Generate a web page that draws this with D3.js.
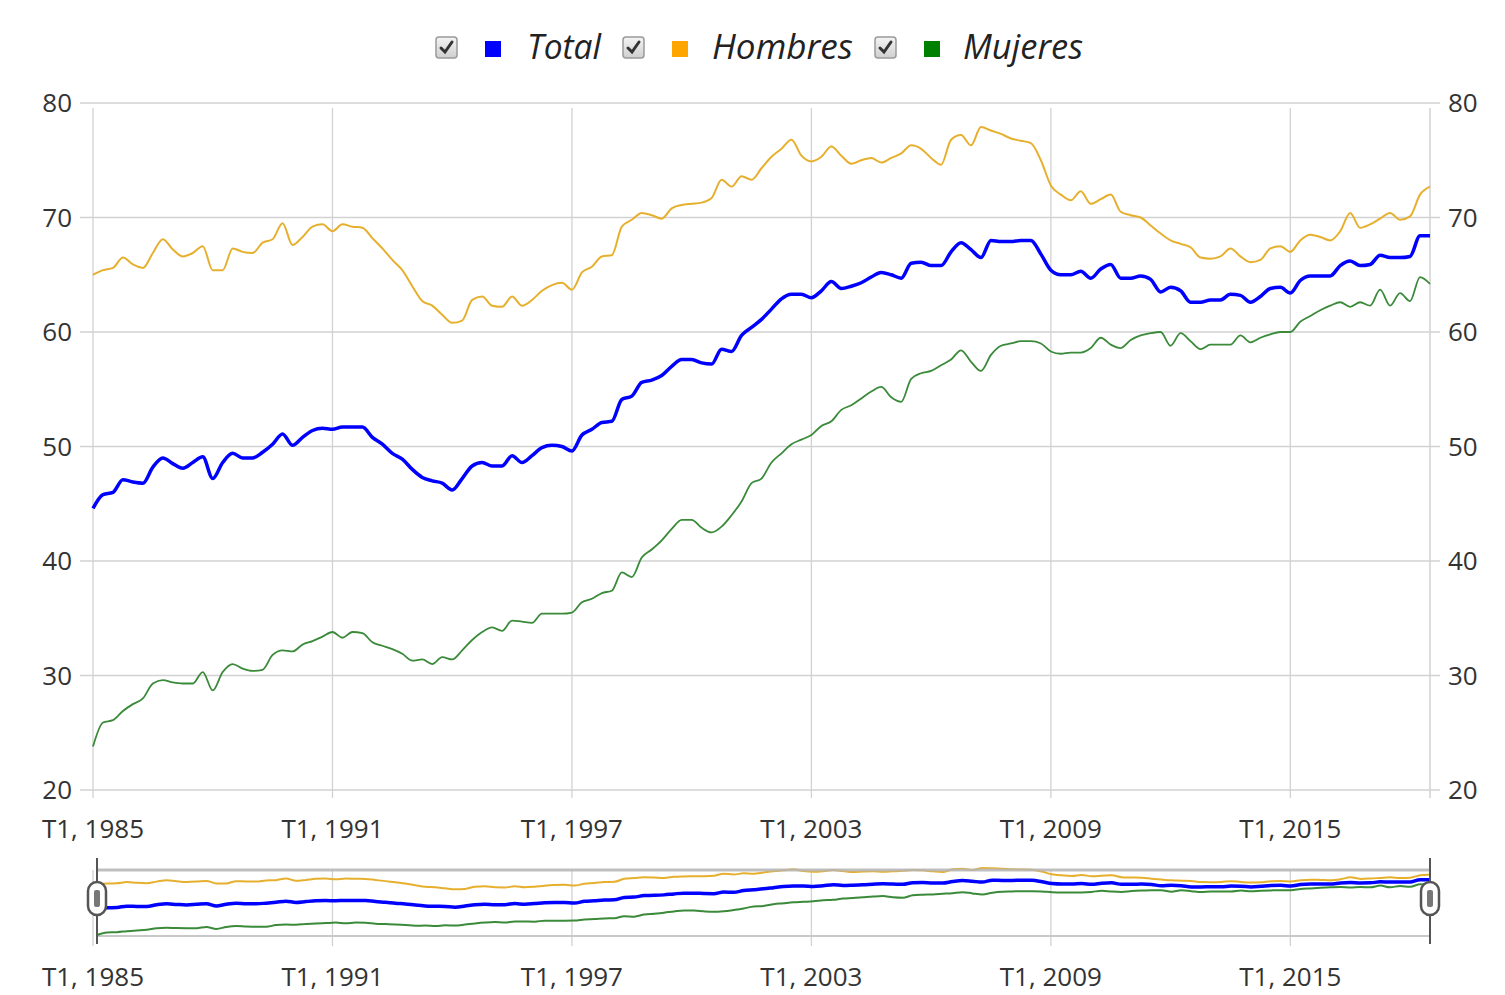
<!DOCTYPE html>
<html>
<head>
<meta charset="utf-8">
<script src="https://cdnjs.cloudflare.com/ajax/libs/d3/7.8.5/d3.min.js"></script>
<style>
  html, body { margin: 0; padding: 0; background: #fff; }
  svg { display: block; font-family: 'Open Sans', sans-serif; }
</style>
</head>
<body>
<svg id="chart" width="1505" height="995"></svg>
<script>
// ── Data (quarterly, T1 1985 – T3 2018) ──
var START_YEAR = 1985;
var TICK_YEARS = [1985, 1991, 1997, 2003, 2009, 2015];
var Y_TICKS = [20, 30, 40, 50, 60, 70, 80];

var total = [
  44.6, 45.8, 46.0, 47.1, 46.9, 46.8, 48.2, 49.0, 48.5, 48.1,
  48.6, 49.1, 47.2, 48.6, 49.4, 49.0, 49.0, 49.5, 50.2, 51.1,
  50.1, 50.8, 51.4, 51.6, 51.5, 51.7, 51.7, 51.7, 50.8, 50.2,
  49.4, 48.9, 48.0, 47.3, 47.0, 46.8, 46.2, 47.2, 48.3, 48.6,
  48.3, 48.3, 49.2, 48.6, 49.2, 49.9, 50.1, 50.0, 49.6, 51.0,
  51.5, 52.1, 52.2, 54.1, 54.4, 55.6, 55.8, 56.2, 57.0, 57.6,
  57.6, 57.3, 57.2, 58.5, 58.3, 59.7, 60.4, 61.1, 62.0, 62.9,
  63.3, 63.3, 63.0, 63.6, 64.4, 63.8, 64.0, 64.3, 64.8, 65.2,
  65.0, 64.7, 66.0, 66.1, 65.8, 65.8, 67.0, 67.8, 67.2, 66.5,
  68.0, 67.9, 67.9, 68.0, 68.0, 66.8, 65.4, 65.0, 65.0, 65.3,
  64.7, 65.5, 65.9, 64.7, 64.7, 64.9, 64.6, 63.5, 63.9, 63.6,
  62.6, 62.6, 62.8, 62.8, 63.3, 63.2, 62.6, 63.1, 63.8, 63.9,
  63.4, 64.5, 64.9, 64.9, 64.9, 65.8, 66.2, 65.8, 65.9, 66.7,
  66.5, 66.5, 66.6, 68.4, 68.4
];

var hombres = [
  65.0, 65.4, 65.6, 66.5, 65.9, 65.6, 66.9, 68.1, 67.2, 66.6,
  66.9, 67.5, 65.4, 65.4, 67.3, 67.0, 66.9, 67.8, 68.1, 69.5,
  67.6, 68.3, 69.2, 69.4, 68.8, 69.4, 69.2, 69.1, 68.2, 67.3,
  66.3, 65.4, 64.0, 62.7, 62.3, 61.5, 60.8, 61.0, 62.8, 63.1,
  62.3, 62.2, 63.1, 62.3, 62.8, 63.6, 64.1, 64.3, 63.7, 65.2,
  65.7, 66.6, 66.7, 69.2, 69.8, 70.4, 70.2, 69.9, 70.8, 71.1,
  71.2, 71.3, 71.7, 73.3, 72.7, 73.6, 73.3, 74.3, 75.3, 76.0,
  76.8, 75.4, 74.9, 75.3, 76.2, 75.4, 74.7, 75.0, 75.2, 74.8,
  75.2, 75.6, 76.3, 76.0, 75.2, 74.6, 76.8, 77.2, 76.3, 77.9,
  77.6, 77.3, 76.9, 76.7, 76.5, 75.0, 72.8, 72.0, 71.5, 72.3,
  71.2, 71.6, 72.0, 70.5, 70.2, 70.0, 69.3, 68.6, 68.0, 67.7,
  67.4, 66.5, 66.4, 66.6, 67.3, 66.6, 66.1, 66.3, 67.3, 67.5,
  67.0, 68.0, 68.5, 68.3, 68.0, 68.8, 70.4, 69.1, 69.4, 69.9,
  70.4, 69.8, 70.1, 72.0, 72.7
];

var mujeres = [
  23.8, 25.9, 26.1, 26.9, 27.5, 28.0, 29.3, 29.6, 29.4, 29.3,
  29.3, 30.3, 28.7, 30.3, 31.0, 30.6, 30.4, 30.5, 31.8, 32.2,
  32.1, 32.7, 33.0, 33.4, 33.8, 33.3, 33.8, 33.7, 32.9, 32.6,
  32.3, 31.9, 31.3, 31.4, 31.0, 31.6, 31.4, 32.2, 33.1, 33.8,
  34.2, 33.9, 34.8, 34.7, 34.6, 35.4, 35.4, 35.4, 35.5, 36.4,
  36.7, 37.2, 37.4, 39.0, 38.6, 40.3, 41.0, 41.8, 42.8, 43.6,
  43.6, 42.9, 42.5, 43.0, 44.0, 45.2, 46.8, 47.2, 48.6, 49.4,
  50.2, 50.6, 51.0, 51.8, 52.2, 53.2, 53.6, 54.2, 54.8, 55.2,
  54.3, 53.9, 55.9, 56.4, 56.6, 57.1, 57.6, 58.4, 57.4, 56.6,
  58.0, 58.8, 59.0, 59.2, 59.2, 59.0, 58.3, 58.1, 58.2, 58.2,
  58.6, 59.5, 58.9, 58.6, 59.3, 59.7, 59.9, 60.0, 58.8, 59.9,
  59.2, 58.5, 58.9, 58.9, 58.9, 59.7, 59.1, 59.5, 59.8, 60.0,
  60.0, 60.9, 61.4, 61.9, 62.3, 62.6, 62.2, 62.6, 62.3, 63.7,
  62.3, 63.4, 62.7, 64.8, 64.2
];

var SERIES_NAMES = ['Total', 'Hombres', 'Mujeres'];
var LEGEND_COLORS = ['#0000ff', '#ffa500', '#008000'];
var LINE_COLORS = ['#0000ff', '#e6b02e', '#3a8a3a'];
var LINE_WIDTHS = [3.5, 2, 1.8];
var NAV_WIDTHS = [3.5, 2, 2];

// quarter labels
var quarters = total.map(function (d, i) {
  return 'T' + (i % 4 + 1) + ', ' + (START_YEAR + Math.floor(i / 4));
});
var tickLabels = TICK_YEARS.map(function (y) { return 'T1, ' + y; });

// ── Layout ──
var PLOT = { left: 93, right: 1430, top: 103, bottom: 790 };
var NAV = { left: 97, right: 1430, top: 870, bottom: 936 };
var FONT = "'Open Sans', sans-serif";
var TEXT_COLOR = '#333';
var GRID_COLOR = '#d2d2d2';

var svg = d3.select('#chart');

var x = d3.scalePoint().domain(quarters).range([PLOT.left, PLOT.right]);
var y = d3.scaleLinear().domain([20, 80]).range([PLOT.bottom, PLOT.top]);

var seriesData = [total, hombres, mujeres];

// ── Grid ──
var grid = svg.append('g');

grid.selectAll('.hgrid')
  .data(Y_TICKS)
  .join('line')
  .attr('x1', PLOT.left - 13).attr('x2', PLOT.right + 10)
  .attr('y1', function (d) { return y(d); })
  .attr('y2', function (d) { return y(d); })
  .attr('stroke', GRID_COLOR)
  .attr('stroke-width', 1.5);

grid.selectAll('.vgrid')
  .data(tickLabels)
  .join('line')
  .attr('x1', function (d) { return x(d); })
  .attr('x2', function (d) { return x(d); })
  .attr('y1', PLOT.top + 5).attr('y2', PLOT.bottom + 8)
  .attr('stroke', GRID_COLOR)
  .attr('stroke-width', 1.3);

// right axis line
grid.append('line')
  .attr('x1', PLOT.right).attr('x2', PLOT.right)
  .attr('y1', PLOT.top + 5).attr('y2', PLOT.bottom + 8)
  .attr('stroke', GRID_COLOR)
  .attr('stroke-width', 1.5);

// ── Axes labels ──
var axisG = svg.append('g')
  .attr('font-family', FONT)
  .attr('font-size', 26)
  .attr('fill', TEXT_COLOR);

axisG.selectAll('.ylab-l')
  .data(Y_TICKS)
  .join('text')
  .attr('x', PLOT.left - 21)
  .attr('y', function (d) { return y(d); })
  .attr('dy', '0.35em')
  .attr('text-anchor', 'end')
  .text(function (d) { return d; });

axisG.selectAll('.ylab-r')
  .data(Y_TICKS)
  .join('text')
  .attr('x', PLOT.right + 18)
  .attr('y', function (d) { return y(d); })
  .attr('dy', '0.35em')
  .attr('text-anchor', 'start')
  .text(function (d) { return d; });

axisG.selectAll('.xlab')
  .data(tickLabels)
  .join('text')
  .attr('x', function (d) { return x(d); })
  .attr('y', PLOT.bottom + 39)
  .attr('dy', '0.35em')
  .attr('text-anchor', 'middle')
  .text(function (d) { return d; });

// ── Main lines ──
var line = d3.line()
  .x(function (d, i) { return x(quarters[i]); })
  .y(function (d) { return y(d); })
  .curve(d3.curveMonotoneX);

var drawOrder = [2, 1, 0];
svg.append('g')
  .selectAll('path')
  .data(drawOrder)
  .join('path')
  .attr('d', function (k) { return line(seriesData[k]); })
  .attr('fill', 'none')
  .attr('stroke', function (k) { return LINE_COLORS[k]; })
  .attr('stroke-width', function (k) { return LINE_WIDTHS[k]; })
  .attr('stroke-linejoin', 'round');

// ── Legend ──
var legendItems = [
  { check: 436, box: 485, text: 527, width: 74 },
  { check: 623, box: 672, text: 712, width: 141 },
  { check: 875, box: 924, text: 963, width: 120 }
];

var defs = svg.append('defs');
var grad = defs.append('linearGradient')
  .attr('id', 'cbGrad').attr('x1', 0).attr('y1', 0).attr('x2', 0).attr('y2', 1);
grad.append('stop').attr('offset', '0%').attr('stop-color', '#f4f4f4');
grad.append('stop').attr('offset', '100%').attr('stop-color', '#cfcfcf');

var legend = svg.append('g');
var li = legend.selectAll('g')
  .data(legendItems)
  .join('g');

li.append('rect')
  .attr('x', function (d) { return d.check; })
  .attr('y', 37)
  .attr('width', 21).attr('height', 21)
  .attr('rx', 3)
  .attr('fill', 'url(#cbGrad)')
  .attr('stroke', '#9a9a9a')
  .attr('stroke-width', 1.5);

li.append('path')
  .attr('d', function (d) {
    var cx = d.check;
    return 'M' + (cx + 5) + ',48 L' + (cx + 9) + ',52 L' + (cx + 16) + ',42';
  })
  .attr('fill', 'none')
  .attr('stroke', '#333')
  .attr('stroke-width', 3)
  .attr('stroke-linecap', 'round');

li.append('rect')
  .attr('x', function (d) { return d.box; })
  .attr('y', 41)
  .attr('width', 16).attr('height', 16)
  .attr('fill', function (d, i) { return LEGEND_COLORS[i]; });

li.append('text')
  .attr('x', function (d) { return d.text; })
  .attr('y', 47)
  .attr('dy', '0.35em')
  .attr('font-family', FONT)
  .attr('font-style', 'italic')
  .attr('font-size', 35)
  .attr('fill', '#222')
  .attr('textLength', function (d) { return d.width; })
  .attr('lengthAdjust', 'spacingAndGlyphs')
  .text(function (d, i) { return SERIES_NAMES[i]; });

// ── Navigator ──
var xNav = d3.scalePoint().domain(quarters).range([NAV.left, NAV.right]);
var allVals = total.concat(hombres, mujeres);
var yNav = d3.scaleLinear()
  .domain([d3.min(allVals), d3.max(allVals)])
  .range([NAV.bottom - 1, NAV.top - 2]);

var nav = svg.append('g');

nav.selectAll('.nvgrid')
  .data(tickLabels)
  .join('line')
  .attr('x1', function (d) { return x(d); })
  .attr('x2', function (d) { return x(d); })
  .attr('y1', NAV.top).attr('y2', NAV.bottom + 10)
  .attr('stroke', GRID_COLOR)
  .attr('stroke-width', 1.3);

nav.append('line')
  .attr('x1', NAV.left).attr('x2', NAV.right)
  .attr('y1', NAV.bottom).attr('y2', NAV.bottom)
  .attr('stroke', '#c8c8c8')
  .attr('stroke-width', 2);

var navLine = d3.line()
  .x(function (d, i) { return xNav(quarters[i]); })
  .y(function (d) { return yNav(d); })
  .curve(d3.curveMonotoneX);

nav.append('g')
  .selectAll('path')
  .data(drawOrder)
  .join('path')
  .attr('d', function (k) { return navLine(seriesData[k]); })
  .attr('fill', 'none')
  .attr('stroke', function (k) { return LINE_COLORS[k]; })
  .attr('stroke-width', function (k) { return NAV_WIDTHS[k]; });

nav.append('line')
  .attr('x1', NAV.left).attr('x2', NAV.right)
  .attr('y1', NAV.top).attr('y2', NAV.top)
  .attr('stroke', '#b4b4b4')
  .attr('stroke-opacity', 0.85)
  .attr('stroke-width', 3);

// handles
var handles = nav.selectAll('.handle')
  .data([NAV.left, NAV.right])
  .join('g');

handles.append('line')
  .attr('x1', function (d) { return d; })
  .attr('x2', function (d) { return d; })
  .attr('y1', 858).attr('y2', 944)
  .attr('stroke', '#555')
  .attr('stroke-width', 2);

handles.append('rect')
  .attr('x', function (d) { return d - 9; })
  .attr('y', 882)
  .attr('width', 18).attr('height', 33)
  .attr('rx', 9)
  .attr('fill', '#fff')
  .attr('stroke', '#555')
  .attr('stroke-width', 2.5);

handles.append('rect')
  .attr('x', function (d) { return d - 3; })
  .attr('y', 890)
  .attr('width', 6).attr('height', 17)
  .attr('rx', 2)
  .attr('fill', '#777');

nav.append('g')
  .attr('font-family', FONT)
  .attr('font-size', 26)
  .attr('fill', TEXT_COLOR)
  .selectAll('text')
  .data(tickLabels)
  .join('text')
  .attr('x', function (d) { return x(d); })
  .attr('y', 977)
  .attr('dy', '0.35em')
  .attr('text-anchor', 'middle')
  .text(function (d) { return d; });
</script>
</body>
</html>
